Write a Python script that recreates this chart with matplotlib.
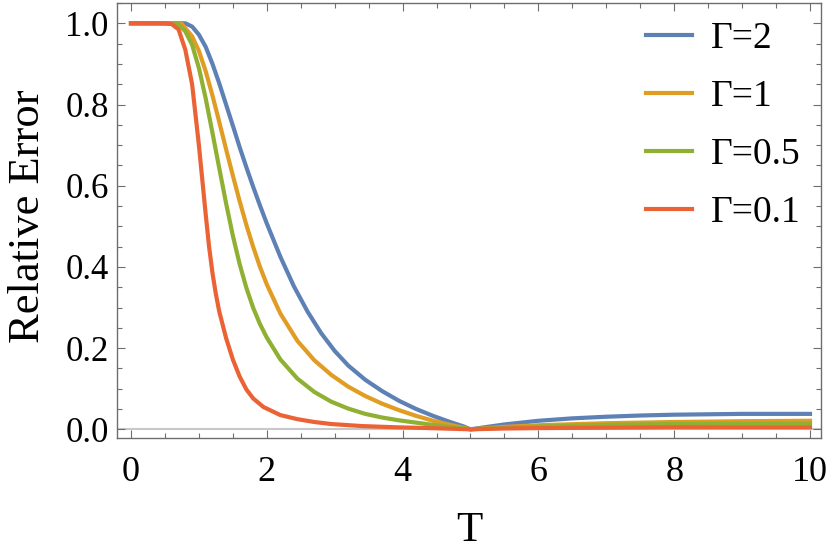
import matplotlib.pyplot as plt
from matplotlib.ticker import MultipleLocator

plt.rcParams["font.family"] = ["Liberation Serif", "DejaVu Serif"]

# Gamma = 2
T_g2 = [0, 0.5, 0.8, 0.9, 1.0, 1.1, 1.2, 1.3, 1.4, 1.5, 1.6, 1.7, 1.8, 1.9,
        2.0, 2.2, 2.4, 2.6, 2.8, 3.0, 3.2, 3.45, 3.7, 3.95, 4.2, 4.45, 4.7,
        4.9, 5.0, 5.5, 6.0, 6.5, 7.0, 7.5, 8.0, 9.0, 10.0]
err_g2 = [1.0, 1.0, 1.0, 0.992, 0.972, 0.942, 0.9, 0.852, 0.8, 0.748,
          0.695, 0.645, 0.597, 0.551, 0.507, 0.425, 0.352, 0.29, 0.237,
          0.193, 0.157, 0.122, 0.094, 0.07, 0.05, 0.033, 0.018, 0.007, 0.0,
          0.012, 0.021, 0.027, 0.031, 0.034, 0.036, 0.038, 0.038]

# Gamma = 1
T_g1 = [0, 0.5, 0.75, 0.9, 1.0, 1.1, 1.2, 1.3, 1.4, 1.5, 1.6, 1.7, 1.8, 1.9,
        2.0, 2.2, 2.45, 2.7, 2.95, 3.2, 3.45, 3.7, 3.95, 4.2, 4.45, 4.7,
        5.0, 5.5, 6.0, 7.0, 8.0, 9.0, 10.0]
err_g1 = [1.0, 1.0, 0.998, 0.968, 0.932, 0.882, 0.822, 0.757, 0.69, 0.625,
          0.562, 0.503, 0.449, 0.4, 0.357, 0.285, 0.218, 0.17, 0.134, 0.105,
          0.082, 0.063, 0.047, 0.033, 0.021, 0.011, 0.0, 0.006, 0.01, 0.015,
          0.018, 0.02, 0.021]

# Gamma = 0.5
T_g05 = [0, 0.5, 0.7, 0.8, 0.9, 1.0, 1.1, 1.2, 1.3, 1.4, 1.5, 1.6, 1.7, 1.8,
         1.9, 2.0, 2.2, 2.45, 2.7, 2.95, 3.2, 3.45, 3.7, 3.95, 4.4, 4.7, 5.0,
         5.5, 6.0, 7.0, 8.0, 9.0, 10.0]
err_g05 = [1.0, 1.0, 0.998, 0.98, 0.947, 0.89, 0.815, 0.73, 0.643, 0.557,
           0.477, 0.407, 0.348, 0.299, 0.259, 0.226, 0.172, 0.125, 0.092,
           0.068, 0.051, 0.038, 0.029, 0.022, 0.012, 0.006, 0.0, 0.004,
           0.007, 0.011, 0.013, 0.014, 0.014]

# Gamma = 0.1
T_g01 = [0, 0.5, 0.6, 0.7, 0.8, 0.9, 1.0, 1.05, 1.1, 1.15, 1.2, 1.25, 1.3,
         1.4, 1.5, 1.6, 1.7, 1.8, 1.95, 2.2, 2.45, 2.7, 2.95, 3.4, 3.9, 4.4,
         5.0, 5.5, 6.0, 7.0, 8.0, 9.0, 10.0]
err_g01 = [1.0, 1.0, 0.998, 0.985, 0.935, 0.85, 0.7, 0.615, 0.53, 0.45,
           0.385, 0.333, 0.29, 0.225, 0.172, 0.13, 0.098, 0.076, 0.055,
           0.035, 0.025, 0.018, 0.013, 0.008, 0.005, 0.003, 0.0, 0.002,
           0.003, 0.004, 0.005, 0.005, 0.005]

labels = ["Γ=2", "Γ=1", "Γ=0.5", "Γ=0.1"]
colors = ["#5E81B5", "#E19C24", "#8FB032", "#EB6235"]

fig = plt.figure(figsize=(8.3, 5.59), dpi=100)
ax = fig.add_axes([117 / 830, 1 - 438 / 559, 704 / 830, 435 / 559])

ax.axhline(0, color="#c8c8c8", lw=1.5, zorder=1)
series = [(T_g2, err_g2), (T_g1, err_g1), (T_g05, err_g05), (T_g01, err_g01)]
for (xs, ys), lab, c in zip(series, labels, colors):
    ax.plot(xs, ys, color=c, lw=3, label=lab, zorder=3,
            solid_joinstyle="round")

ax.set_xlim(-0.206, 10.162)
ax.set_ylim(-0.0214, 1.05)
ax.xaxis.set_major_locator(MultipleLocator(2))
ax.xaxis.set_minor_locator(MultipleLocator(0.5))
ax.yaxis.set_major_locator(MultipleLocator(0.2))
ax.yaxis.set_minor_locator(MultipleLocator(0.05))
ax.yaxis.set_major_formatter(plt.FuncFormatter(lambda v, p: f"{v:.1f}"))

frame = "#6e6e6e"
for s in ax.spines.values():
    s.set_color(frame)
    s.set_linewidth(1.0)
ax.tick_params(which="both", direction="in", top=True, right=True,
               color=frame, width=0.8)
ax.tick_params(which="major", length=6)
ax.tick_params(which="minor", length=3.5)
ax.tick_params(axis="y", labelsize=25, pad=6)
ax.tick_params(axis="x", labelsize=26, pad=13)

fig.text(28 / 830, 1 - 216 / 559, "Relative Error", rotation=90,
         ha="center", va="center", fontsize=32)
fig.text(0.5 * (117 + 821) / 830, 1 - 531 / 559, "T",
         ha="center", va="center", fontsize=31)

ax.legend(loc="upper left", bbox_to_anchor=(646 / 830, 1 - 22 / 559),
          bbox_transform=fig.transFigure, frameon=False, fontsize=27,
          handlelength=1.23, handletextpad=0.5, labelspacing=0.62,
          borderpad=0, borderaxespad=0)

fig.savefig("out.png", dpi=100)
